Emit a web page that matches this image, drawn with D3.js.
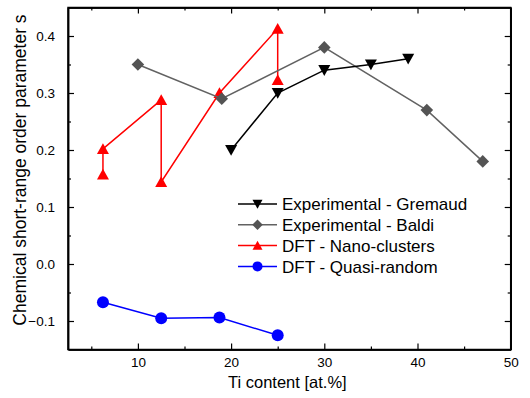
<!DOCTYPE html>
<html>
<head>
<meta charset="utf-8">
<script src="https://cdn.jsdelivr.net/npm/d3@7"></script>
<style>
  html, body { margin: 0; padding: 0; background: #fff; }
  svg { display: block; font-family: "Liberation Sans", Arial, sans-serif; }
</style>
</head>
<body>
<svg id="chart" width="530" height="398"></svg>
<script>
// Ti content (at.%) and chemical short-range order parameter s for each series
const gremaudX = [20, 25, 30, 35, 39];
const gremaudY = [0.20, 0.30, 0.34, 0.35, 0.36];

const baldiX = [10, 19, 30, 41, 47];
const baldiY = [0.35, 0.29, 0.38, 0.27, 0.18];

const nanoX = [6.25, 6.25, 12.5, 12.5, 18.75, 25, 25];
const nanoY = [0.157, 0.202, 0.288, 0.144, 0.300, 0.413, 0.323];

const quasiX = [6.25, 12.5, 18.75, 25];
const quasiY = [-0.067, -0.095, -0.094, -0.125];

const seriesNames = ["Experimental - Gremaud", "Experimental - Baldi", "DFT - Nano-clusters", "DFT - Quasi-random"];

const xTicks = [10, 20, 30, 40, 50];
const yTicks = [-0.1, 0.0, 0.1, 0.2, 0.3, 0.4];
const xMinorTicks = [5, 15, 25, 35, 45];
const yMinorTicks = [-0.05, 0.05, 0.15, 0.25, 0.35];

const svg = d3.select("#chart");
const plotL = 68, plotR = 510.7, plotT = 7.5, plotB = 349.5;

const x = d3.scaleLinear().domain([2.5, 50]).range([plotL, plotR]);
const y = d3.scaleLinear().domain([-0.15, 0.45]).range([plotB, plotT]);

const toPoints = (xs, ys) => xs.map((v, i) => [v, ys[i]]);

const series = [
  { name: seriesNames[0], pts: toPoints(gremaudX, gremaudY), line: "#000000", fill: "#000000", sym: "down" },
  { name: seriesNames[1], pts: toPoints(baldiX, baldiY), line: "#626262", fill: "#545454", sym: "diamond" },
  { name: seriesNames[2], pts: toPoints(nanoX, nanoY), line: "#ff0000", fill: "#ff0000", sym: "up" },
  { name: seriesNames[3], pts: toPoints(quasiX, quasiY), line: "#0000ff", fill: "#0000ff", sym: "circle" }
];

// Marker path centred on 0,0 with half-size s
function marker(sym, s) {
  if (sym === "down") return `M${-s},${-s * 0.85}L${s},${-s * 0.85}L0,${s * 0.95}Z`;
  if (sym === "up") return `M${-s},${s * 0.85}L${s},${s * 0.85}L0,${-s * 0.95}Z`;
  if (sym === "diamond") return `M0,${-s * 1.05}L${s * 1.05},0L0,${s * 1.05}L${-s * 1.05},0Z`;
  return d3.arc()({ innerRadius: 0, outerRadius: s, startAngle: 0, endAngle: 2 * Math.PI });
}

// Axes with inward ticks on all four sides
function styleAxis(g) {
  g.selectAll("path.domain").attr("stroke", "#000").attr("stroke-width", 1.5);
  g.selectAll(".tick line").attr("stroke", "#000").attr("stroke-width", 1.2);
  g.selectAll("text").attr("fill", "#000").style("font-size", "13.5px");
}

const fmt = d3.format(".1f");

svg.append("g").attr("transform", `translate(0,${plotB})`)
  .call(d3.axisBottom(x).tickValues(xTicks).tickSize(-6).tickPadding(8).tickSizeOuter(0))
  .call(styleAxis);
svg.append("g").attr("transform", `translate(0,${plotB})`)
  .call(d3.axisBottom(x).tickValues(xMinorTicks).tickSize(-3).tickFormat("").tickSizeOuter(0))
  .call(styleAxis);
svg.append("g").attr("transform", `translate(0,${plotT})`)
  .call(d3.axisTop(x).tickValues(xTicks).tickSize(-6).tickFormat("").tickSizeOuter(0))
  .call(styleAxis);
svg.append("g").attr("transform", `translate(0,${plotT})`)
  .call(d3.axisTop(x).tickValues(xMinorTicks).tickSize(-3).tickFormat("").tickSizeOuter(0))
  .call(styleAxis);

svg.append("g").attr("transform", `translate(${plotL},0)`)
  .call(d3.axisLeft(y).tickValues(yTicks).tickSize(-6).tickPadding(13).tickFormat(fmt).tickSizeOuter(0))
  .call(styleAxis);
svg.append("g").attr("transform", `translate(${plotL},0)`)
  .call(d3.axisLeft(y).tickValues(yMinorTicks).tickSize(-3).tickFormat("").tickSizeOuter(0))
  .call(styleAxis);
svg.append("g").attr("transform", `translate(${plotR},0)`)
  .call(d3.axisRight(y).tickValues(yTicks).tickSize(-6).tickFormat("").tickSizeOuter(0))
  .call(styleAxis);
svg.append("g").attr("transform", `translate(${plotR},0)`)
  .call(d3.axisRight(y).tickValues(yMinorTicks).tickSize(-3).tickFormat("").tickSizeOuter(0))
  .call(styleAxis);

// Frame
svg.append("rect").attr("x", plotL).attr("y", plotT)
  .attr("width", plotR - plotL).attr("height", plotB - plotT)
  .attr("fill", "none").attr("stroke", "#000").attr("stroke-width", 1.5);

// Series: lines then markers, drawn in this order
const line = d3.line().x(d => x(d[0])).y(d => y(d[1]));
const drawOrder = [2, 1, 0, 3];
drawOrder.forEach(i => {
  const s = series[i];
  const g = svg.append("g");
  g.append("path").attr("d", line(s.pts))
    .attr("fill", "none").attr("stroke", s.line).attr("stroke-width", 1.5);
  g.selectAll("path.m").data(s.pts).join("path").attr("class", "m")
    .attr("transform", d => `translate(${x(d[0])},${y(d[1])})`)
    .attr("d", marker(s.sym, 6))
    .attr("fill", s.fill);
});

// Legend
const legend = svg.append("g");
series.forEach((s, i) => {
  const ly = 204 + i * 20.8;
  legend.append("line").attr("x1", 238).attr("x2", 277).attr("y1", ly).attr("y2", ly)
    .attr("stroke", s.line).attr("stroke-width", 1.5);
  legend.append("path").attr("transform", `translate(257.5,${ly})`)
    .attr("d", marker(s.sym, 5)).attr("fill", s.fill);
  legend.append("text").attr("x", 282).attr("y", ly).attr("dy", "0.36em")
    .style("font-size", "17px").attr("fill", "#000").text(s.name);
});

// Axis titles
svg.append("text").attr("x", (plotL + plotR) / 2 - 2).attr("y", 388)
  .attr("text-anchor", "middle").style("font-size", "16.5px").text("Ti content [at.%]");
svg.append("text").attr("transform", `translate(26,170) rotate(-90)`)
  .attr("text-anchor", "middle").style("font-size", "17.5px")
  .text("Chemical short-range order parameter s");
</script>
</body>
</html>
